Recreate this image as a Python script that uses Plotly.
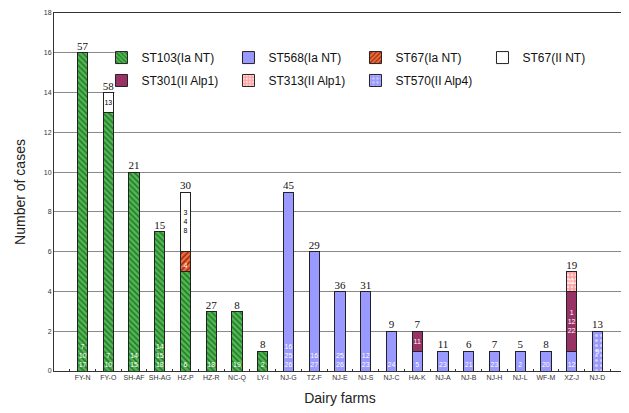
import plotly.graph_objects as go

farms = ["FY-N", "FY-O", "SH-AF", "SH-AG", "HZ-P", "HZ-R", "NC-Q", "LY-I", "NJ-G", "TZ-F",
         "NJ-E", "NJ-S", "NJ-C", "HA-K", "NJ-A", "NJ-B", "NJ-H", "NJ-L", "WF-M", "XZ-J", "NJ-D"]

st103_ia = [16, 13, 10, 7, 5, 3, 3, 1, 0, 0, 0, 0, 0, 0, 0, 0, 0, 0, 0, 0, 0]
st568_ia = [0, 0, 0, 0, 0, 0, 0, 0, 9, 6, 4, 4, 2, 1, 1, 1, 1, 1, 1, 1, 0]
st67_ia = [0, 0, 0, 0, 1, 0, 0, 0, 0, 0, 0, 0, 0, 0, 0, 0, 0, 0, 0, 0, 0]
st67_ii = [0, 1, 0, 0, 3, 0, 0, 0, 0, 0, 0, 0, 0, 0, 0, 0, 0, 0, 0, 0, 0]
st301_ii = [0, 0, 0, 0, 0, 0, 0, 0, 0, 0, 0, 0, 0, 1, 0, 0, 0, 0, 0, 3, 0]
st313_ii = [0, 0, 0, 0, 0, 0, 0, 0, 0, 0, 0, 0, 0, 0, 0, 0, 0, 0, 0, 1, 0]
st570_ii = [0, 0, 0, 0, 0, 0, 0, 0, 0, 0, 0, 0, 0, 0, 0, 0, 0, 0, 0, 0, 2]

st103_lbl = ["7<br>10<br>17", "7<br>10", "14<br>15", "14<br>15<br>18", "6", "18", "19", "2",
             "", "", "", "", "", "", "", "", "", "", "", "", ""]
st568_lbl = ["", "", "", "", "", "", "", "", "16<br>25<br>26", "16<br>27", "25<br>26", "12<br>23",
             "24", "5", "23", "21", "23", "2", "20", "12", ""]
st67_ia_lbl = ["", "", "", "", "4", "", "", "", "", "", "", "", "", "", "", "", "", "", "", "", ""]
st67_ii_lbl = ["", "13", "", "", "3<br>4<br>8", "", "", "", "", "", "", "", "", "", "", "", "", "", "", "", ""]
st301_lbl = ["", "", "", "", "", "", "", "", "", "", "", "", "", "11", "", "", "", "", "", "1<br>12<br>22", ""]
st313_lbl = ["", "", "", "", "", "", "", "", "", "", "", "", "", "", "", "", "", "", "", "11", ""]
st570_lbl = ["", "", "", "", "", "", "", "", "", "", "", "", "", "", "", "", "", "", "", "", "9"]

top_labels = ["57", "58", "21", "15", "30", "27", "8", "8", "45", "29", "36", "31", "9", "7",
              "11", "6", "7", "5", "8", "19", "13"]

# name, values, labels, pattern, color, text colour, text anchor, legend row
series = [
    ("ST103(Ia NT)", st103_ia, st103_lbl, dict(shape="\\", bgcolor="#4fb84f", fgcolor="#22702a", size=4, solidity=0.35), "#4fb84f", "white", "start", "legend"),
    ("ST568(Ia NT)", st568_ia, st568_lbl, None, "#9999ff", "white", "start", "legend"),
    ("ST67(Ia NT)", st67_ia, st67_ia_lbl, dict(shape="/", bgcolor="#ee7040", fgcolor="#a02a10", size=4, solidity=0.4), "#ee7040", "white", "start", "legend"),
    ("ST67(II NT)", st67_ii, st67_ii_lbl, None, "#ffffff", "black", "middle", "legend"),
    ("ST301(II Alp1)", st301_ii, st301_lbl, None, "#993366", "white", "middle", "legend2"),
    ("ST313(II Alp1)", st313_ii, st313_lbl, dict(shape=".", bgcolor="#ff9f9f", fgcolor="#ffd8d8", size=4, solidity=0.4), "#ff9f9f", "white", "middle", "legend2"),
    ("ST570(II Alp4)", st570_ii, st570_lbl, dict(shape=".", bgcolor="#9999ff", fgcolor="#d0d0ff", size=5, solidity=0.3), "#9999ff", "white", "middle", "legend2"),
]

fig = go.Figure()
for name, vals, lbls, pat, color, tcol, anchor, leg in series:
    marker = dict(color=color, line=dict(color="#222222", width=1))
    if pat:
        marker["pattern"] = dict(fillmode="replace", **pat)
    fig.add_trace(go.Bar(
        name=name, x=farms, y=vals, text=lbls, marker=marker, legend=leg,
        textposition="inside", insidetextanchor=anchor, textangle=0,
        textfont=dict(size=7, color=tcol, family="Liberation Sans"),
        hoverinfo="skip",
    ))

totals = [sum(s[1][i] for s in series) for i in range(len(farms))]
fig.add_trace(go.Scatter(
    x=farms, y=totals, mode="text", text=top_labels, textposition="top center",
    textfont=dict(family="Liberation Serif", size=11, color="#111111"),
    showlegend=False, cliponaxis=False, hoverinfo="skip",
))

leg_common = dict(
    orientation="h", xanchor="left", yanchor="top",
    entrywidth=82, entrywidthmode="pixels",
    bgcolor="rgba(0,0,0,0)", font=dict(size=12, color="#111111", family="Liberation Sans"),
    itemwidth=30, traceorder="normal",
)

fig.update_layout(
    width=629, height=413,
    margin=dict(l=46, r=11, t=5, b=50, autoexpand=False),
    barmode="stack", bargap=0.6,
    paper_bgcolor="white", plot_bgcolor="white",
    uniformtext=dict(minsize=6, mode="show"),
    font=dict(family="Liberation Sans", color="#222222"),
    legend=dict(x=0.083, y=0.916, **leg_common),
    legend2=dict(x=0.083, y=0.852, **leg_common),
    shapes=[dict(type="rect", xref="paper", yref="y", x0=0.106, x1=0.997, y0=13.5, y1=16.6,
                 fillcolor="white", line=dict(width=0), layer="above")],
)
fig.update_xaxes(
    categoryorder="array", categoryarray=farms, automargin=False,
    showline=True, linecolor="#333333", linewidth=1, mirror=True,
    ticks="inside", tickson="boundaries", ticklen=2, tickcolor="#333333",
    tickangle=0, tickfont=dict(size=7, color="#333333"),
    title=dict(text="Dairy farms", font=dict(size=14, color="#222222"), standoff=11),
)
fig.update_yaxes(
    range=[0, 18], dtick=2, showgrid=True, gridcolor="#8a8a8a", gridwidth=1,
    showline=True, linecolor="#333333", linewidth=1, mirror=True, automargin=False,
    zeroline=False, tickfont=dict(size=7, color="#333333"),
    title=dict(text="Number of cases", font=dict(size=14, color="#222222"), standoff=14),
)

fig.write_html("out.html")
